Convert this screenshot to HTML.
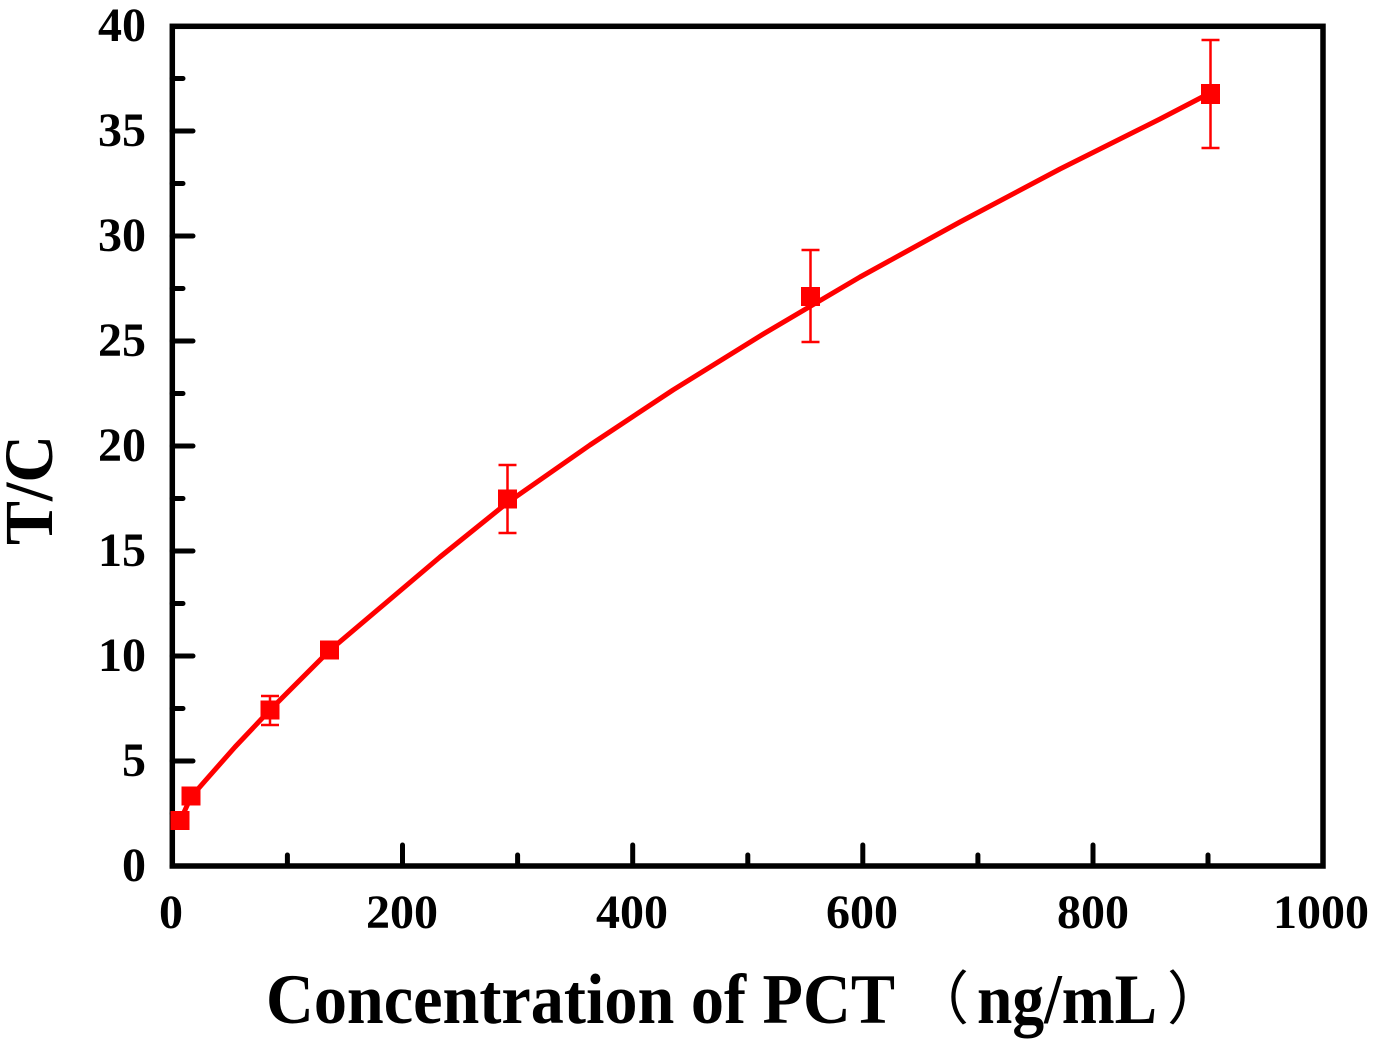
<!DOCTYPE html>
<html>
<head>
<meta charset="utf-8">
<style>
html,body{margin:0;padding:0;background:#fff;}
svg{display:block;}
</style>
</head>
<body>
<svg width="1384" height="1039" viewBox="0 0 1384 1039" xmlns="http://www.w3.org/2000/svg">
<rect x="0" y="0" width="1384" height="1039" fill="#fff"/>

<!-- ticks (inward) -->
<g stroke="#000" stroke-width="5" stroke-linecap="round">
  <!-- y major -->
  <line x1="172" y1="866" x2="193" y2="866"/>
  <line x1="172" y1="761" x2="193" y2="761"/>
  <line x1="172" y1="656" x2="193" y2="656"/>
  <line x1="172" y1="551" x2="193" y2="551"/>
  <line x1="172" y1="446" x2="193" y2="446"/>
  <line x1="172" y1="341" x2="193" y2="341"/>
  <line x1="172" y1="236" x2="193" y2="236"/>
  <line x1="172" y1="131" x2="193" y2="131"/>
  <!-- y minor -->
  <line x1="172" y1="813.5" x2="183" y2="813.5"/>
  <line x1="172" y1="708.5" x2="183" y2="708.5"/>
  <line x1="172" y1="603.5" x2="183" y2="603.5"/>
  <line x1="172" y1="498.5" x2="183" y2="498.5"/>
  <line x1="172" y1="393.5" x2="183" y2="393.5"/>
  <line x1="172" y1="288.5" x2="183" y2="288.5"/>
  <line x1="172" y1="183.5" x2="183" y2="183.5"/>
  <line x1="172" y1="78.5" x2="183" y2="78.5"/>
  <!-- x major -->
  <line x1="402.5" y1="866" x2="402.5" y2="845"/>
  <line x1="632.7" y1="866" x2="632.7" y2="845"/>
  <line x1="862.8" y1="866" x2="862.8" y2="845"/>
  <line x1="1093" y1="866" x2="1093" y2="845"/>
  <!-- x minor -->
  <line x1="287.4" y1="866" x2="287.4" y2="855"/>
  <line x1="517.6" y1="866" x2="517.6" y2="855"/>
  <line x1="747.8" y1="866" x2="747.8" y2="855"/>
  <line x1="977.9" y1="866" x2="977.9" y2="855"/>
  <line x1="1208" y1="866" x2="1208" y2="855"/>
</g>

<!-- frame -->
<rect x="172.3" y="26.3" width="1150.7" height="839.7" fill="none" stroke="#000" stroke-width="5.5"/>

<!-- fitted curve -->
<polyline fill="none" stroke="#ff0000" stroke-width="5" stroke-linejoin="round" stroke-linecap="round"
 points="180,821 191,797 205,781 235,747 270,710 329,651 440,557 507,503 590,445 673,390 765,333 860,277 960,222 1060,169 1160,119 1210,93"/>

<!-- error bars -->
<g stroke="#ff0000" stroke-width="2.5" fill="none">
  <line x1="270" y1="696" x2="270" y2="725"/>
  <line x1="261" y1="696" x2="279" y2="696"/>
  <line x1="261" y1="725" x2="279" y2="725"/>

  <line x1="507.5" y1="465" x2="507.5" y2="533"/>
  <line x1="498.5" y1="465" x2="516.5" y2="465"/>
  <line x1="498.5" y1="533" x2="516.5" y2="533"/>

  <line x1="810.5" y1="250" x2="810.5" y2="342"/>
  <line x1="801.5" y1="250" x2="819.5" y2="250"/>
  <line x1="801.5" y1="342" x2="819.5" y2="342"/>

  <line x1="1210.5" y1="40" x2="1210.5" y2="148"/>
  <line x1="1201.5" y1="40" x2="1219.5" y2="40"/>
  <line x1="1201.5" y1="148" x2="1219.5" y2="148"/>
</g>

<!-- markers -->
<g fill="#ff0000">
  <rect x="170.5" y="811" width="19" height="19"/>
  <rect x="181.5" y="786.5" width="19" height="19"/>
  <rect x="260.5" y="700.5" width="19" height="19"/>
  <rect x="320" y="640.5" width="19" height="19"/>
  <rect x="498" y="489.5" width="19" height="19"/>
  <rect x="801" y="287" width="19" height="19"/>
  <rect x="1201" y="84" width="19" height="20"/>
</g>

<!-- y tick labels -->
<g font-family="'Liberation Serif', serif" font-weight="bold" font-size="48" fill="#000" text-anchor="end">
  <text x="146" y="881">0</text>
  <text x="146" y="776">5</text>
  <text x="146" y="671">10</text>
  <text x="146" y="566">15</text>
  <text x="146" y="461">20</text>
  <text x="146" y="356">25</text>
  <text x="146" y="251">30</text>
  <text x="146" y="146">35</text>
  <text x="146" y="41">40</text>
</g>

<!-- x tick labels -->
<g font-family="'Liberation Serif', serif" font-weight="bold" font-size="48" fill="#000" text-anchor="middle">
  <text x="171" y="928">0</text>
  <text x="402" y="928">200</text>
  <text x="632" y="928">400</text>
  <text x="862" y="928">600</text>
  <text x="1093" y="928">800</text>
  <text x="1321" y="928">1000</text>
</g>

<!-- axis titles -->
<text x="266" y="1023" font-family="'Liberation Serif', serif" font-weight="bold" font-size="71" textLength="629" lengthAdjust="spacingAndGlyphs" fill="#000">Concentration of PCT</text>
<text x="911" y="1019" font-family="'Liberation Serif', 'Noto Sans CJK SC', sans-serif" font-size="58" fill="#000">（</text>
<text x="977" y="1023" font-family="'Liberation Serif', serif" font-weight="bold" font-size="71" textLength="180" lengthAdjust="spacingAndGlyphs" fill="#000">ng/mL</text>
<text x="1167" y="1019" font-family="'Liberation Serif', 'Noto Sans CJK SC', sans-serif" font-size="58" fill="#000">）</text>

<text transform="translate(52,490) rotate(-90)" text-anchor="middle" font-family="'Liberation Serif', serif" font-weight="bold" font-size="69" textLength="110" lengthAdjust="spacingAndGlyphs" fill="#000">T/C</text>
</svg>
</body>
</html>
